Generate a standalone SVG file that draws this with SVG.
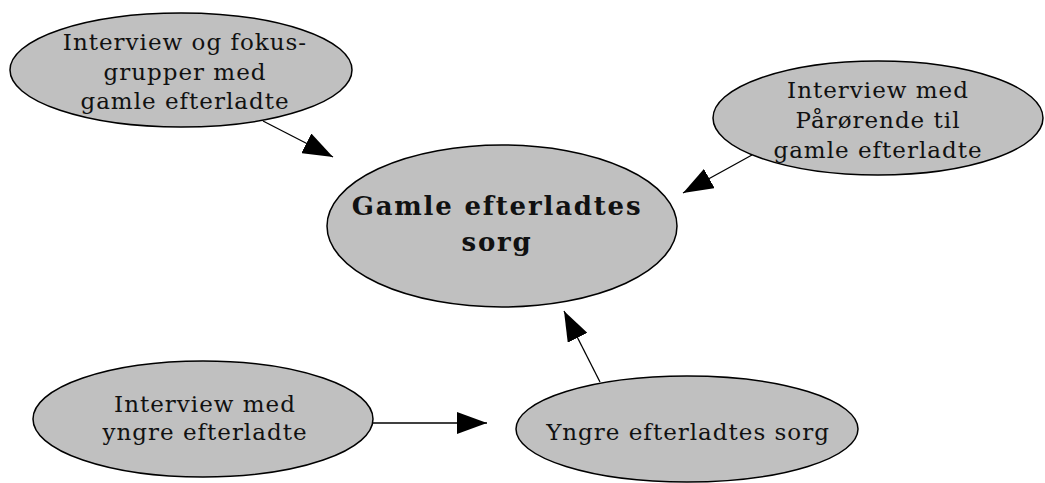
<svg xmlns="http://www.w3.org/2000/svg" width="1045" height="483" viewBox="0 0 1045 483">
<style>
.n{fill:#c0c0c0;stroke:#000;stroke-width:1.5}
.t{font-family:"DejaVu Serif","Liberation Serif",serif;font-size:23px;letter-spacing:1px;fill:#111;text-anchor:middle}
.b{font-family:"DejaVu Serif","Liberation Serif",serif;font-size:26px;letter-spacing:1.8px;font-weight:bold;fill:#111;text-anchor:middle}
.e{stroke:#000;stroke-width:1.3;fill:none}
</style>
<defs>
<marker id="ah" markerUnits="userSpaceOnUse" markerWidth="32" markerHeight="22" refX="30" refY="11" orient="auto">
<path d="M0,0 L30,11 L0,22 Z" fill="#000"/>
</marker>
</defs>
<g id="connectors">
<line class="e" x1="263" y1="121" x2="333" y2="157" marker-end="url(#ah)"/>
<line class="e" x1="752" y1="155" x2="683" y2="193" marker-end="url(#ah)"/>
<line class="e" x1="373" y1="423" x2="487" y2="423" marker-end="url(#ah)"/>
<line class="e" x1="600" y1="382" x2="564" y2="311" marker-end="url(#ah)"/>
</g>
<g id="n1">
<ellipse class="n" cx="181" cy="70" rx="171" ry="57"/>
<text class="t" x="185" y="50">Interview og fokus-</text>
<text class="t" x="185" y="80">grupper med</text>
<text class="t" x="185" y="109">gamle efterladte</text>
</g>
<g id="n2">
<ellipse class="n" cx="878" cy="118" rx="165" ry="57"/>
<text class="t" x="878" y="98">Interview med</text>
<text class="t" x="878" y="128">Pårørende til</text>
<text class="t" x="878" y="158">gamle efterladte</text>
</g>
<g id="n3">
<ellipse class="n" cx="502" cy="226" rx="175" ry="81"/>
<text class="b" x="497" y="215">Gamle efterladtes</text>
<text class="b" x="497" y="251">sorg</text>
</g>
<g id="n4">
<ellipse class="n" cx="203" cy="419" rx="170" ry="58"/>
<text class="t" x="205" y="412">Interview med</text>
<text class="t" x="205" y="440">yngre efterladte</text>
</g>
<g id="n5">
<ellipse class="n" cx="687" cy="429" rx="171" ry="53"/>
<text class="t" x="688" y="440">Yngre efterladtes sorg</text>
</g>
</svg>
